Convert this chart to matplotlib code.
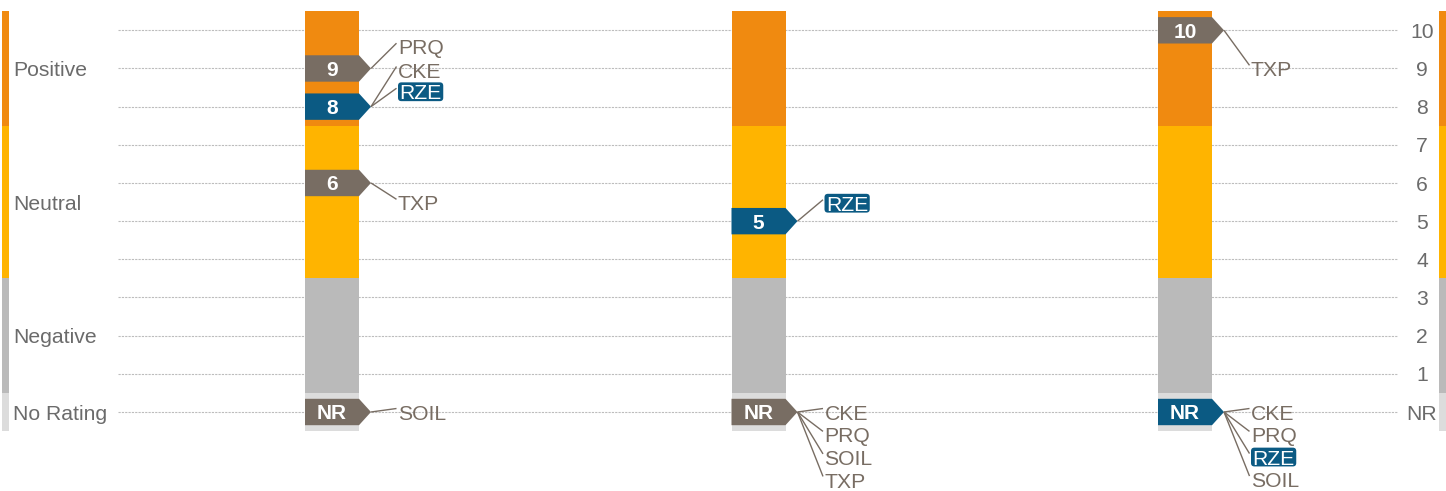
import matplotlib
matplotlib.use("Agg")
import matplotlib.pyplot as plt
from matplotlib.patches import Polygon, FancyBboxPatch

plt.rcParams['font.family'] = ['Liberation Sans', 'DejaVu Sans']

# ---------------- data ----------------
columns = ['Column 1', 'Column 2', 'Column 3']
entities = ['CKE', 'PRQ', 'RZE', 'SOIL', 'TXP']
# rating per column; 0 means "NR" (no rating)
ratings_CKE = [8, 0, 0]
ratings_PRQ = [9, 0, 0]
ratings_RZE = [8, 5, 0]
ratings_SOIL = [0, 0, 0]
ratings_TXP = [6, 0, 10]
highlight = 'RZE'

band_names = ['No Rating', 'Negative', 'Neutral', 'Positive']
band_low = [-0.5, 0.5, 3.5, 7.5]
band_high = [0.5, 3.5, 7.5, 10.5]
tick_values = [0, 1, 2, 3, 4, 5, 6, 7, 8, 9, 10]
tick_labels = ['NR', '1', '2', '3', '4', '5', '6', '7', '8', '9', '10']

ratings = {'CKE': ratings_CKE, 'PRQ': ratings_PRQ, 'RZE': ratings_RZE,
           'SOIL': ratings_SOIL, 'TXP': ratings_TXP}

# ---------------- layout / style ----------------
band_colors = ['#dcdcdc', '#bababa', '#ffb400', '#f08a10']
GRAY = '#786d63'
BLUE = '#0b5a83'
TEXT = '#6b6b6b'

# label placement (value units) to avoid overlaps
label_y = {
    (0, 'PRQ'): 9.57, (0, 'CKE'): 8.96, (0, 'RZE'): 8.39, (0, 'TXP'): 5.48, (0, 'SOIL'): 0.0,
    (1, 'RZE'): 5.47, (1, 'CKE'): 0.0, (1, 'PRQ'): -0.6, (1, 'SOIL'): -1.19, (1, 'TXP'): -1.78,
    (2, 'TXP'): 8.99, (2, 'CKE'): 0.0, (2, 'PRQ'): -0.6, (2, 'RZE'): -1.18, (2, 'SOIL'): -1.77,
}

W, H = 1446, 491
fig = plt.figure(figsize=(W / 100, H / 100), dpi=100)
ax = fig.add_axes([0, 0, 1, 1])
X0, X1 = -332 / 426.5, (W - 332) / 426.5
Y0, Y1 = (412.0 - H) / 38.17, 412.0 / 38.17
ax.set_xlim(X0, X1)
ax.set_ylim(Y0, Y1)
ax.axis('off')
PX = (X1 - X0) / W
PY = (Y1 - Y0) / H

BAR_W = 54 * PX
FS = 15.2
cap_half_lbl = 0.716 * FS * 100 / 72 / 2 * PY

# gridlines
for v in tick_values:
    ax.axhline(v, xmin=118 / W, xmax=1398 / W, color='#bdbdbd', lw=0.8,
               linestyle=(0, (2, 1)), zorder=1)

# stacked band bars
heights = [h - l for l, h in zip(band_low, band_high)]
for i in range(len(columns)):
    ax.bar([i] * len(band_low), heights, bottom=band_low, width=BAR_W,
           color=band_colors, linewidth=0, zorder=2)

# side strips
ax.bar([X0 + 5.3 * PX] * len(band_low), heights, bottom=band_low, width=6.7 * PX,
       color=band_colors, linewidth=0, zorder=2)
ax.bar([X0 + 1442.5 * PX] * len(band_low), heights, bottom=band_low, width=7 * PX,
       color=band_colors, linewidth=0, zorder=2)

# band labels (left)
for name, lo, hi in zip(band_names, band_low, band_high):
    ax.text(X0 + 13 * PX, (lo + hi) / 2 - cap_half_lbl, name, fontsize=FS,
            color=TEXT, ha='left', va='baseline', zorder=5)

# tick labels (right)
for v, t in zip(tick_values, tick_labels):
    ax.text(X0 + 1422 * PX, v - cap_half_lbl, t, fontsize=FS, color=TEXT,
            ha='center', va='baseline', zorder=5)

renderer = fig.canvas.get_renderer()
half_h = 13.2 * PY
tip_len = 12 * PX
num_fs = 15
cap_half_num = 0.716 * num_fs * 100 / 72 / 2 * PY

for i in range(len(columns)):
    groups = {}
    for e in entities:
        groups.setdefault(ratings[e][i], []).append(e)
    for v, members in groups.items():
        color = BLUE if highlight in members else GRAY
        left = i - BAR_W / 2
        right = i + BAR_W / 2
        tip = right + tip_len
        poly = Polygon([(left, v - half_h), (right, v - half_h), (tip, v),
                        (right, v + half_h), (left, v + half_h)], closed=True,
                       facecolor=color, edgecolor='none', zorder=3)
        ax.add_patch(poly)
        ax.text(i, v - cap_half_num, tick_labels[tick_values.index(v)], fontsize=num_fs,
                fontweight='bold', color='white', ha='center', va='baseline', zorder=4)
        for e in members:
            ly = label_y[(i, e)]
            ax.plot([tip, tip + 25.5 * PX], [v, ly + 3.5 * PY], color=GRAY, lw=1.0,
                    zorder=4, solid_capstyle='butt')
            if e == highlight:
                t = ax.text(tip + 28.5 * PX, ly - cap_half_lbl, e, fontsize=FS,
                            color='white', ha='left', va='baseline', zorder=6)
                bb = t.get_window_extent(renderer)
                bx0 = bb.x0 / fig.dpi * 100
                bw = bb.width / fig.dpi * 100
                box = FancyBboxPatch((X0 + (bx0 - 1.5) * PX, ly - 9.4 * PY),
                                     (bw + 3) * PX, 18.8 * PY,
                                     boxstyle='round,pad=0,rounding_size=0.008',
                                     mutation_aspect=PY / PX,
                                     facecolor=BLUE, edgecolor='none', zorder=5)
                ax.add_patch(box)
            else:
                ax.text(tip + 27 * PX, ly - cap_half_lbl, e, fontsize=FS,
                        color=GRAY, ha='left', va='baseline', zorder=5)

fig.savefig('out.png', dpi=100)
